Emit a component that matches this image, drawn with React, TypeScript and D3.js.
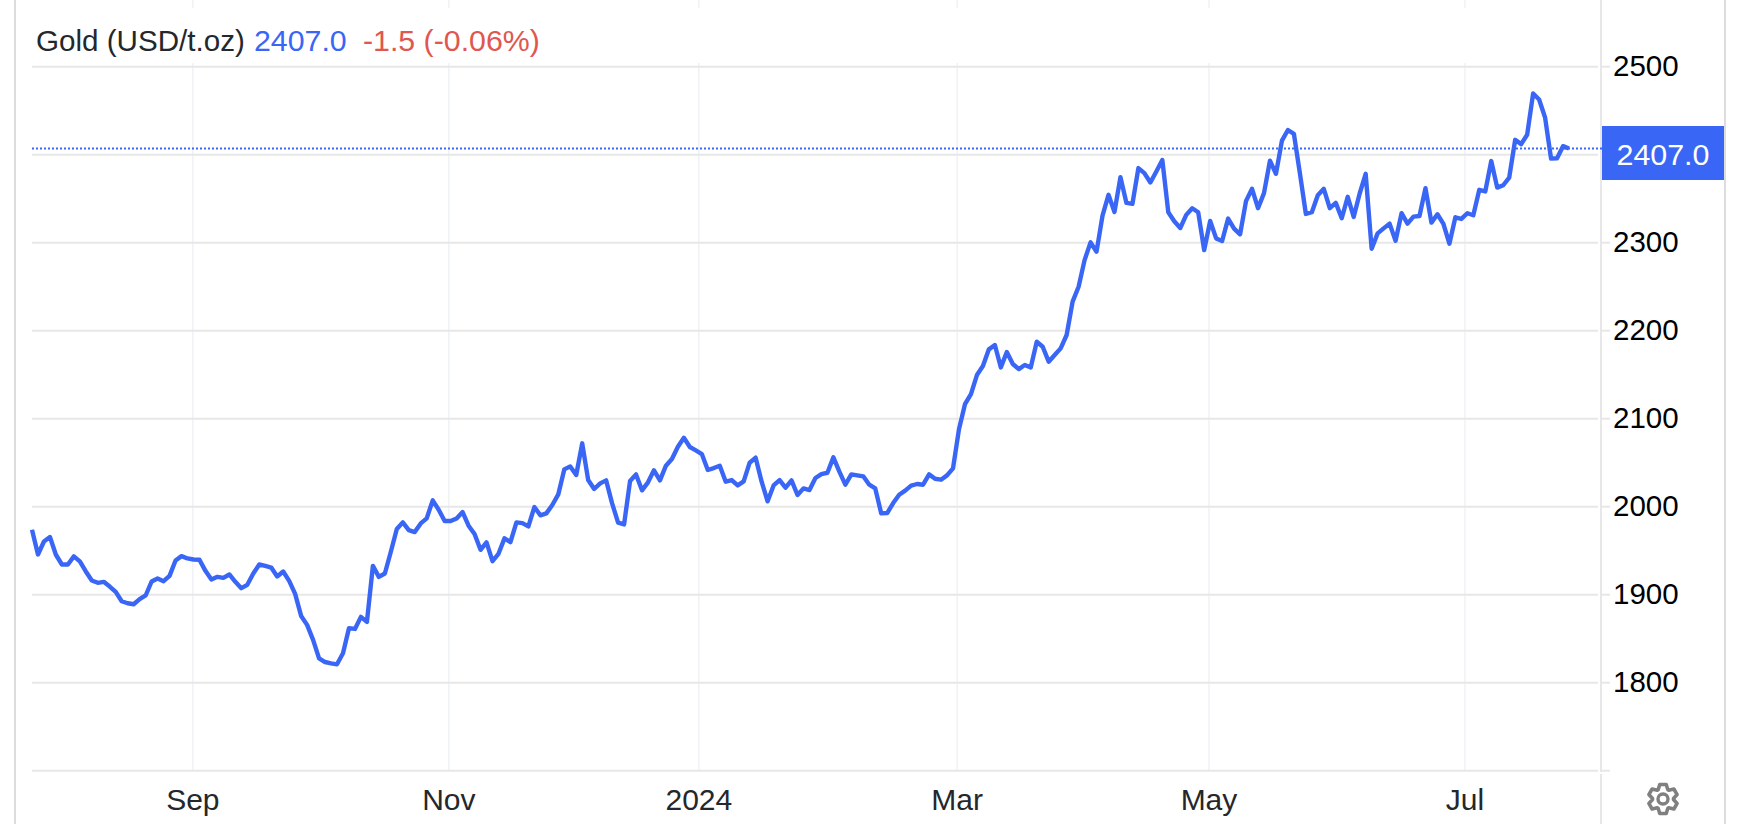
import React from 'react';
import * as d3 from 'd3';

const WIDTH = 1742;
const HEIGHT = 824;

// daily close
const goldPrices = [
  1973.8, 1945.7, 1960.5, 1965.5, 1945.4, 1934.3, 1934.3, 1943.5, 1937.8, 1926.4,
  1916.1, 1913.5, 1914.6, 1909.3, 1903.2, 1892.6, 1890.3, 1889.2, 1894.9, 1899.1,
  1915.0, 1918.4, 1915.4, 1921.4, 1938.9, 1943.8, 1941.2, 1940.0, 1939.7, 1927.1,
  1917.3, 1920.3, 1919.2, 1923.0, 1914.6, 1907.4, 1911.2, 1924.1, 1934.3, 1932.8,
  1930.9, 1920.7, 1926.4, 1915.7, 1900.9, 1875.9, 1865.7, 1848.6, 1827.7, 1823.5,
  1822.0, 1820.9, 1833.4, 1861.9, 1861.1, 1874.8, 1869.1, 1932.8, 1920.3, 1924.1,
  1948.8, 1974.6, 1982.2, 1973.4, 1971.2, 1981.0, 1986.7, 2007.2, 1996.6, 1983.7,
  1983.7, 1986.7, 1993.9, 1978.4, 1968.9, 1951.0, 1959.4, 1938.1, 1946.5, 1964.0,
  1959.8, 1982.2, 1981.4, 1977.7, 1999.6, 1990.2, 1992.4, 2001.9, 2014.0, 2042.4,
  2045.8, 2036.0, 2072.0, 2030.3, 2020.1, 2026.5, 2029.9, 2003.8, 1981.8, 1979.9,
  2029.2, 2036.7, 2018.6, 2027.7, 2041.3, 2029.9, 2046.6, 2054.2, 2068.2, 2078.4,
  2067.8, 2064.0, 2059.8, 2041.7, 2043.9, 2046.6, 2028.4, 2030.3, 2024.2, 2028.8,
  2050.0, 2055.7, 2028.4, 2006.1, 2024.2, 2030.3, 2021.6, 2029.9, 2013.3, 2020.8,
  2018.9, 2032.6, 2037.1, 2038.6, 2056.1, 2039.8, 2025.0, 2036.7, 2035.6, 2034.5,
  2025.0, 2020.8, 1992.4, 1992.8, 2004.2, 2013.6, 2018.2, 2023.9, 2025.8, 2025.0,
  2036.7, 2031.8, 2030.7, 2035.6, 2043.6, 2088.0, 2116.5, 2128.0, 2149.6, 2159.8,
  2178.8, 2183.7, 2158.3, 2175.8, 2162.1, 2156.4, 2161.0, 2158.3, 2187.5, 2181.8,
  2164.8, 2172.3, 2179.9, 2195.1, 2233.0, 2250.0, 2280.2, 2300.4, 2289.7, 2330.8,
  2354.4, 2335.0, 2374.5, 2345.2, 2344.1, 2384.8, 2379.1, 2368.4, 2381.0, 2393.9,
  2334.6, 2324.3, 2316.7, 2331.6, 2339.2, 2334.6, 2291.6, 2324.7, 2304.9, 2301.9,
  2327.4, 2316.0, 2309.5, 2347.5, 2361.2, 2339.2, 2356.3, 2393.2, 2378.3, 2416.0,
  2428.1, 2423.6, 2379.1, 2332.7, 2334.6, 2354.0, 2361.2, 2339.2, 2345.2, 2327.8,
  2352.1, 2329.3, 2355.9, 2378.3, 2293.2, 2310.6, 2316.3, 2321.7, 2302.3, 2333.5,
  2321.7, 2329.7, 2330.4, 2362.0, 2322.8, 2332.3, 2321.3, 2298.9, 2328.9, 2327.0,
  2333.5, 2331.2, 2360.1, 2358.2, 2392.8, 2362.6, 2365.3, 2374.0, 2416.9, 2412.0,
  2422.6, 2469.6, 2462.8, 2442.3, 2395.6, 2396.0, 2409.7, 2407.0,
];

const priceTicks = [1700, 1800, 1900, 2000, 2100, 2200, 2300, 2400, 2500];
const priceLabels = [1800, 1900, 2000, 2100, 2200, 2300, 2500];
const monthLabels = ['Sep', 'Nov', '2024', 'Mar', 'May', 'Jul'];
// position of each month start, counted in trading days from the first point
const monthIndex = [26.9, 69.7, 111.5, 154.7, 196.8, 239.6];

const lastPrice = 2407.0;
const seriesName = 'Gold (USD/t.oz)';
const changeText = '-1.5 (-0.06%)';

const BLUE = '#3a66f6';
const RED = '#e0574f';
const FONT = '"Liberation Sans", Arial, sans-serif';

const x = d3.scaleLinear().domain([0, goldPrices.length - 1]).range([32, 1569]);
const y = d3.scaleLinear().domain([1700, 2500]).range([770.7, 66.7]);

const pricePath = d3
  .line<number>()
  .x((_, i) => x(i))
  .y(d => y(d))(goldPrices);

// settings cog, 6 teeth with one pointing up
const gearPoints: [number, number][] = d3.range(6).flatMap(i => {
  const a = (i * Math.PI) / 3;
  const w = 0.22;
  return [
    [a - 0.26 - w, 10.5],
    [a - w, 14.8],
    [a + w, 14.8],
    [a + 0.26 + w, 10.5],
  ] as [number, number][];
});
const gearPath = d3.lineRadial().curve(d3.curveLinearClosed)(gearPoints);

export default function App() {
  return (
    <svg
      width={WIDTH}
      height={HEIGHT}
      style={{ position: 'absolute', left: 0, top: 0, background: '#fff', display: 'block' }}
      fontFamily={FONT}
    >
      {/* page frame */}
      <line x1={15} x2={15} y1={0} y2={HEIGHT} stroke="#dcdcdc" strokeWidth={2} />
      <line x1={1725} x2={1725} y1={0} y2={HEIGHT} stroke="#dcdcdc" strokeWidth={2} />

      {/* month grid */}
      {monthIndex.map((m, i) => (
        <g key={monthLabels[i]}>
          <line x1={x(m)} x2={x(m)} y1={0} y2={8} stroke="#eff2f5" strokeWidth={1.5} />
          <line x1={x(m)} x2={x(m)} y1={63} y2={770} stroke="#eff2f5" strokeWidth={1.5} />
          <text x={x(m)} y={809.5} textAnchor="middle" fontSize={30} fill="#24272b">
            {monthLabels[i]}
          </text>
        </g>
      ))}

      {/* price grid */}
      {priceTicks.map(t => (
        <g key={t}>
          <line x1={32} x2={1598} y1={y(t)} y2={y(t)} stroke="#e7e7e7" strokeWidth={2} />
          <line x1={1601} x2={1610} y1={y(t)} y2={y(t)} stroke="#e7e7e7" strokeWidth={2} />
        </g>
      ))}
      <line x1={1601} x2={1601} y1={0} y2={772} stroke="#e7e7e7" strokeWidth={2} />
      <line x1={1601} x2={1601} y1={774} y2={HEIGHT} stroke="#e7e7e7" strokeWidth={2} />

      {priceLabels.map(t => (
        <text key={t} x={1613} y={y(t) + 9.5} fontSize={29.5} fill="#000">
          {t}
        </text>
      ))}

      {/* last price marker */}
      <line
        x1={32}
        x2={1602}
        y1={y(lastPrice)}
        y2={y(lastPrice)}
        stroke={BLUE}
        strokeWidth={2}
        strokeDasharray="2 2"
      />
      <path d={pricePath ?? ''} fill="none" stroke={BLUE} strokeWidth={4.4} strokeLinejoin="round" />
      <rect x={1602} y={126} width={122} height={54} fill={BLUE} />
      <text x={1663} y={165} textAnchor="middle" fontSize={30.4} fill="#fff">
        {lastPrice.toFixed(1)}
      </text>

      {/* title */}
      <text x={36} y={51} fontSize={29.6} fill="#24272b">
        {seriesName}
      </text>
      <text x={254} y={51} fontSize={30.3} fill={BLUE}>
        {lastPrice.toFixed(1)}
      </text>
      <text x={363} y={51} fontSize={30.3} fill={RED}>
        {changeText}
      </text>

      {/* settings */}
      <g transform="translate(1663,799)">
        <path d={gearPath ?? ''} fill="none" stroke="#808080" strokeWidth={3.6} strokeLinejoin="round" />
        <circle r={5} fill="none" stroke="#808080" strokeWidth={3.4} />
      </g>
    </svg>
  );
}
